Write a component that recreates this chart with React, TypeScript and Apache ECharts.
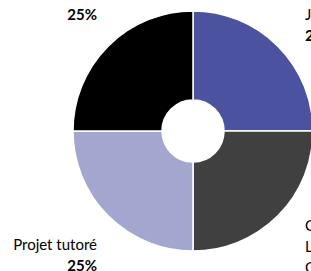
import React, { useEffect, useRef } from "react";
import * as echarts from "echarts";

const categories = [
  "Journées d'études",
  "Cours\nLectures\nConférences",
  "Projet tutoré",
  "Stage",
];
const values = [25, 25, 25, 25];
const colors = ["#4B53A1", "#404040", "#A3A6CF", "#000000"];
// whether the category name is shown in the label (top-left one only shows %)
const showName = [true, true, true, false];

// label anchor positions (x, y top, alignment) for each slice
const labelSpots = [
  { x: 305, y: 3.5, align: "left" },
  { x: 305, y: 214.5, align: "left" },
  { x: 97, y: 233.5, align: "right" },
  { x: 97, y: 3.5, align: "right" },
];

export default function App() {
  const ref = useRef<HTMLDivElement>(null);
  useEffect(() => {
    if (!ref.current) return;
    const chart = echarts.init(ref.current, undefined, { renderer: "svg" });
    chart.setOption({
      animation: false,
      backgroundColor: "#ffffff",
      series: [
        {
          type: "pie",
          center: [193, 131],
          radius: [31, 120],
          startAngle: 90,
          clockwise: true,
          avoidLabelOverlap: false,
          data: categories.map((name, i) => ({
            name,
            value: values[i],
            itemStyle: { color: colors[i] },
          })),
          itemStyle: { borderColor: "#ffffff", borderWidth: 1.5 },
          emphasis: { disabled: true },
          labelLine: { show: false },
          label: {
            show: true,
            position: "outside",
            overflow: "none",
            formatter: (p: any) =>
              showName[p.dataIndex]
                ? `{n|${p.name}}\n{p|${Math.round(p.percent)}%}`
                : `{p|${Math.round(p.percent)}%}`,
            fontFamily: "Lato",
            rich: {
              n: {
                fontFamily: "Lato",
                fontSize: 15,
                color: "#000000",
                lineHeight: 21,
              },
              p: {
                fontFamily: "Lato",
                fontSize: 15,
                fontWeight: "bold",
                color: "#000000",
                lineHeight: 21,
              },
            },
          },
          labelLayout: (params: any) => {
            const s = labelSpots[params.dataIndex];
            return {
              x: s.x,
              y: s.y,
              align: s.align,
              verticalAlign: "top",
              hideOverlap: false,
            };
          },
        },
      ],
    });
    return () => chart.dispose();
  }, []);
  return (
    <div
      ref={ref}
      style={{ position: "fixed", left: 0, top: 0, width: 311, height: 271 }}
    />
  );
}
